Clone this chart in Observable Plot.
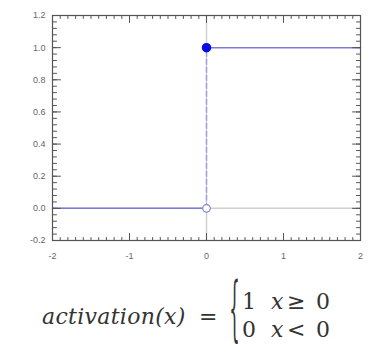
<!DOCTYPE html>
<html><head><meta charset="utf-8">
<script src="https://cdn.jsdelivr.net/npm/d3@7"></script>
<script src="https://cdn.jsdelivr.net/npm/@observablehq/plot@0.6"></script>
<style>
html,body{margin:0;padding:0;background:#fff;}
#wrap{position:relative;width:385px;height:354px;overflow:hidden;}
#chart svg{display:block;}
.f{position:absolute;font-family:"DejaVu Serif",serif;color:#333;white-space:nowrap;line-height:1;font-size:22px;}
.i{font-style:italic;}
.s{font-family:"DejaVu Sans",sans-serif;}
</style></head><body>
<div id="wrap">
<div id="chart"></div>
<div class="f i" style="left:42px;top:306px;letter-spacing:0.3px;">activation(x)</div>
<div class="f" style="left:199px;top:306px;">=</div>
<div class="f" style="left:225px;top:293px;font-size:30px;transform:scale(0.55,2.35);transform-origin:50% 50%;">{</div>
<div class="f" style="left:242px;top:291px;">1</div>
<div class="f i" style="left:271px;top:291px;">x</div>
<div class="f s" style="left:287px;top:291px;">≥</div>
<div class="f" style="left:316px;top:291px;">0</div>
<div class="f" style="left:242px;top:319px;">0</div>
<div class="f i" style="left:271px;top:319px;">x</div>
<div class="f s" style="left:287px;top:319px;">&lt;</div>
<div class="f" style="left:316px;top:319px;">0</div>
</div>
<script>
// Scales / tick labels
const xDomain = [-2, 2];
const yDomain = [-0.2, 1.2];
const xLabels = [-2, -1, 0, 1, 2];
const yLabels = [-0.2, 0, 0.2, 0.4, 0.6, 0.8, 1.0, 1.2];
// Step function segments
const lowX = [-2, 0], lowY = [0, 0];
const highX = [0, 2], highY = [1, 1];
const jumpX = [0, 0], jumpY = [0, 1];
const openX = [0], openY = [0];
const closedX = [0], closedY = [1];

const pts = (xs, ys) => xs.map((x, i) => ({x, y: ys[i]}));
const xMinor = d3.range(-20, 21).map(i => i / 10);
const yMinor = d3.range(-5, 31).map(i => i / 25);
const tickShape = {draw(ctx, l) { ctx.moveTo(0, 0); ctx.lineTo(0, -l); }};
const tk = "#555";
const vt = (data, ch, anchor, rotate, length) =>
  Plot.vector(data, {[ch]: d => d, frameAnchor: anchor, rotate, length, anchor: "start", shape: tickShape, stroke: tk, strokeWidth: 1});

const chart = Plot.plot({
  width: 385, height: 265,
  marginLeft: 52, marginRight: 25, marginTop: 15, marginBottom: 25,
  x: {domain: xDomain, label: null},
  y: {domain: yDomain, label: null},
  style: {fontFamily: "'Liberation Sans', Arial, sans-serif", background: "#fff"},
  marks: [
    Plot.ruleX([0], {stroke: "#d0d0d0", strokeWidth: 1.5}),
    Plot.ruleY([0], {stroke: "#d0d0d0", strokeWidth: 1.5}),
    Plot.line(pts(lowX, lowY), {x: "x", y: "y", stroke: "#7b7bd9", strokeWidth: 1.5}),
    Plot.line(pts(highX, highY), {x: "x", y: "y", stroke: "#7b7bd9", strokeWidth: 1.5}),
    Plot.line(pts(jumpX, jumpY), {x: "x", y: "y", stroke: "#9a9ae8", strokeWidth: 1.3, strokeDasharray: "5,3"}),
    vt(yMinor, "y", "left", 90, 4), vt(yLabels, "y", "left", 90, 8),
    vt(yMinor, "y", "right", 270, 4), vt(yLabels, "y", "right", 270, 8),
    vt(xMinor, "x", "top", 180, 3), vt(xLabels, "x", "top", 180, 7),
    vt(xMinor, "x", "bottom", 0, 3), vt(xLabels, "x", "bottom", 0, 7),
    Plot.frame({stroke: "#555", strokeWidth: 1.2}),
    Plot.dot(pts(openX, openY), {x: "x", y: "y", r: 3.8, fill: "white", stroke: "#8585d8", strokeWidth: 1.2}),
    Plot.dot(pts(closedX, closedY), {x: "x", y: "y", r: 4, fill: "#0b0be6", stroke: "#0b0be6"}),
    Plot.axisY({ticks: yLabels, tickSize: 0, tickPadding: 7, tickFormat: d => d.toFixed(1), fontSize: 9, fill: "#666", label: null}),
    Plot.axisX({ticks: xLabels, tickSize: 0, tickPadding: 12, tickFormat: d => String(d), fontSize: 9, fill: "#666", label: null})
  ]
});
document.getElementById("chart").appendChild(chart);
</script>
</body></html>
